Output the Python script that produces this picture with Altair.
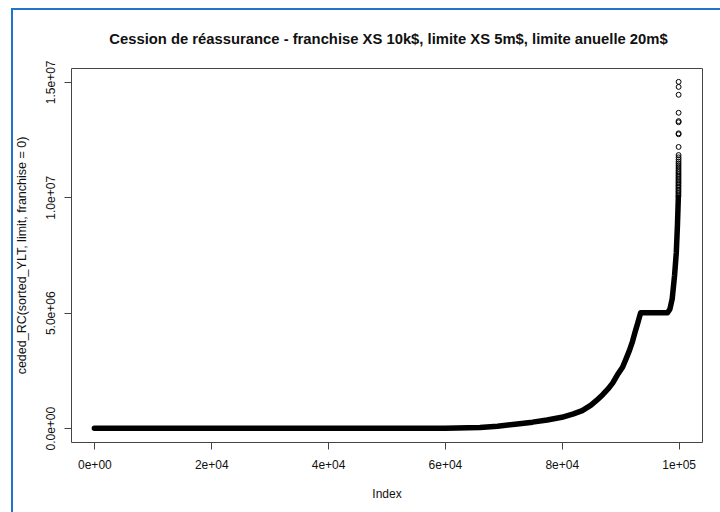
import altair as alt
import pandas as pd

# Sorted ceded amounts (body of the curve), by rank
curve_index = [1, 20000, 40000, 60000, 66000, 69000, 72000, 75000, 77500,
               80000, 82000, 83500, 85000, 86000, 87000, 88000, 88700, 89500,
               90400, 91000, 91600, 92100, 92500, 93000, 93500, 98100, 98500,
               98900, 99300, 99600, 99800, 99950]
curve_value = [0, 0, 0, 0, 30000, 80000, 170000, 260000, 350000,
               470000, 620000, 760000, 1000000, 1210000, 1450000, 1720000, 1950000, 2300000,
               2640000, 3000000, 3380000, 3750000, 4120000, 4550000, 5000000, 5000000, 5150000,
               5600000, 6600000, 7600000, 8800000, 10000000]

# Largest ceded amounts (tail), by rank
tail_index = [99967, 99968, 99969, 99970, 99971, 99972, 99973, 99974, 99975,
              99976, 99977, 99978, 99979, 99980, 99981, 99982, 99983, 99984,
              99985, 99986, 99987, 99988, 99989, 99990, 99991, 99992, 99993,
              99994, 99995, 99996, 99997, 99998, 99999, 100000]
tail_value = [10050000, 10120000, 10190000, 10260000, 10330000, 10400000, 10470000,
              10530000, 10600000, 10660000, 10730000, 10800000, 10870000, 10940000,
              11010000, 11080000, 11150000, 11230000, 11310000, 11390000, 11470000,
              11550000, 11640000, 11730000, 11830000, 12180000, 12730000, 12770000,
              13250000, 13300000, 13660000, 14440000, 14780000, 15000000]

x_ticks = [0, 20000, 40000, 60000, 80000, 100000]
x_tick_labels = ["0e+00", "2e+04", "4e+04", "6e+04", "8e+04", "1e+05"]
y_ticks = [0, 5000000, 10000000, 15000000]
y_tick_labels = ["0.0e+00", "5.0e+06", "1.0e+07", "1.5e+07"]

title_text = "Cession de réassurance - franchise XS 10k$, limite XS 5m$, limite anuelle 20m$"
x_title = "Index"
y_title = "ceded_RC(sorted_YLT, limit, franchise = 0)"

FONT = "Liberation Sans"
FRAME_BLUE = "#1f74cc"
PLOT_W, PLOT_H = 631, 374


def label_expr(values, labels):
    expr = "''"
    for v, lab in reversed(list(zip(values, labels))):
        expr = f"datum.value == {v} ? '{lab}' : ({expr})"
    return expr


curve_df = pd.DataFrame({"Index": curve_index, "ceded": curve_value})
tail_df = pd.DataFrame({"Index": tail_index, "ceded": tail_value})
one_row = pd.DataFrame({"k": [0]})

x_scale = alt.Scale(domain=[-4000, 104000], nice=False, zero=False)
y_scale = alt.Scale(domain=[-600000, 15600000], nice=False, zero=False)

x_axis = alt.Axis(
    values=x_ticks, labelExpr=label_expr(x_ticks, x_tick_labels),
    grid=False, domain=False, tickSize=7, tickColor="#444", tickWidth=1,
    labelPadding=10, labelFont=FONT, labelFontSize=12, labelColor="#111",
    title=x_title, titleFont=FONT, titleFontSize=12, titleFontWeight="normal",
    titleColor="#111", titleY=46, titleBaseline="top",
)
y_axis = alt.Axis(
    values=y_ticks, labelExpr=label_expr(y_ticks, y_tick_labels),
    grid=False, domain=False, tickSize=7, tickColor="#444", tickWidth=1,
    labelAngle=270, labelAlign="center", labelBaseline="bottom",
    labelPadding=7, labelFont=FONT, labelFontSize=12, labelColor="#111",
    title=y_title, titleFont=FONT, titleFontSize=12.5, titleFontWeight="normal",
    titleColor="#111", titleAngle=270, titleAlign="center", titleBaseline="bottom",
    titleX=-43, titleY=PLOT_H / 2,
)

curve = alt.Chart(curve_df).mark_line(
    color="black", strokeWidth=5.5, strokeCap="round", strokeJoin="round"
).encode(
    x=alt.X("Index:Q", scale=x_scale, axis=x_axis),
    y=alt.Y("ceded:Q", scale=y_scale, axis=y_axis),
)

tail = alt.Chart(tail_df).mark_point(
    shape="circle", filled=False, size=24, strokeWidth=1, color="black", opacity=1
).encode(
    x=alt.X("Index:Q", scale=x_scale),
    y=alt.Y("ceded:Q", scale=y_scale),
)

# Main title, centred over the plot area
title = alt.Chart(one_row).mark_text(
    font=FONT, fontSize=14.8, fontWeight="bold", color="#111",
    align="center", baseline="alphabetic",
).encode(x=alt.value(PLOT_W / 2 + 2), y=alt.value(-24), text=alt.value(title_text))

# Window frame around the figure
frame_left = alt.Chart(one_row).mark_rule(
    color=FRAME_BLUE, strokeWidth=2
).encode(x=alt.value(-59), y=alt.value(-60), y2=alt.value(444))
frame_top = alt.Chart(one_row).mark_rule(
    color=FRAME_BLUE, strokeWidth=2
).encode(y=alt.value(-59), x=alt.value(-60), x2=alt.value(649))

chart = alt.layer(curve, tail, title, frame_left, frame_top).properties(
    width=PLOT_W,
    height=PLOT_H,
    autosize=alt.AutoSizeParams(type="none"),
    padding={"left": 71, "top": 68, "right": 18, "bottom": 70},
    background="white",
).configure_view(
    stroke="#444", strokeWidth=1
)

chart.save("out.html", embed_options={"renderer": "svg", "actions": False})
